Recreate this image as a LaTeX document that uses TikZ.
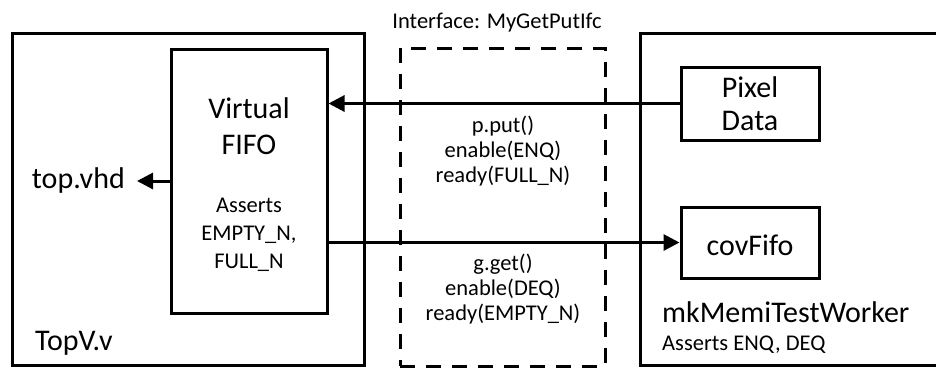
\documentclass[tikz,border=0pt]{standalone}
\usepackage{fontspec}
\setmainfont{Carlito}
\usetikzlibrary{arrows.meta}
\begin{document}
\begin{tikzpicture}[x=1pt,y=-1pt,
  blk/.style={draw,line width=3pt,rectangle,inner sep=0pt},
  dashblk/.style={draw,line width=3pt,rectangle,inner sep=0pt,dash pattern=on 15pt off 11pt},
  big/.style={font=\fontsize{30}{36}\selectfont},
  small/.style={font=\fontsize{22.5}{25}\selectfont},
  lbl/.style={inner sep=0pt,align=center,anchor=base},
  lbll/.style={inner sep=0pt,align=left,anchor=base west},
  conn/.style={line width=3pt,-{Triangle[length=16pt,width=16pt]}}]
\useasboundingbox (0,0) rectangle (936,368);
\begin{scope}
\clip (0,0) rectangle (936,368);
% enclosing modules
\node[blk,minimum width=352pt,minimum height=332pt] (topv) at (188,199) {};
\node[blk,minimum width=320pt,minimum height=332pt] (worker) at (800,199) {};
% interface region
\node[dashblk,minimum width=205pt,minimum height=318pt] (ifc) at (502.5,207) {};
% inner blocks
\node[blk,minimum width=156pt,minimum height=264pt] (fifo) at (249,181) {};
\node[blk,minimum width=138pt,minimum height=73pt] (pix) at (750,103.5) {};
\node[blk,minimum width=138pt,minimum height=71pt] (cov) at (750,242.5) {};
\end{scope}
% texts (base anchor of a multi-line node sits on its last line)
\node[lbl,small] (ifcname) at (497,28) {Interface: MyGetPutIfc};
\node[lbl,big] (fifoname) at (249,154) {Virtual\\FIFO};
\node[lbl,font=\fontsize{22.5}{28}\selectfont] (fifoasr) at (249,268) {Asserts\\EMPTY\_N,\\FULL\_N};
\node[lbl,font=\fontsize{30}{33}\selectfont] (pixname) at (750,130) {Pixel\\Data};
\node[lbl,big] (covname) at (750,255) {covFifo};
\node[lbl,small] (put) at (503,182) {p.put()\\enable(ENQ)\\ready(FULL\_N)};
\node[lbl,small] (get) at (503,320) {g.get()\\enable(DEQ)\\ready(EMPTY\_N)};
\node[lbll,big] (wname) at (662,322) {mkMemiTestWorker};
\node[lbll,small] (wasr) at (662,350) {Asserts ENQ, DEQ};
\node[lbll,big] (topvname) at (35,350) {TopV.v};
\node[lbl,big,anchor=base east] (vhd) at (125,188) {top.vhd};
% connectors
\coordinate (vhdtip) at (137,181);
\draw[conn] (pix.west) -- (pix.west -| fifo.east);
\draw[conn] (fifo.east |- cov.west) -- (cov.west);
\draw[conn] (fifo.west) -- (vhdtip);
\end{tikzpicture}
\end{document}
